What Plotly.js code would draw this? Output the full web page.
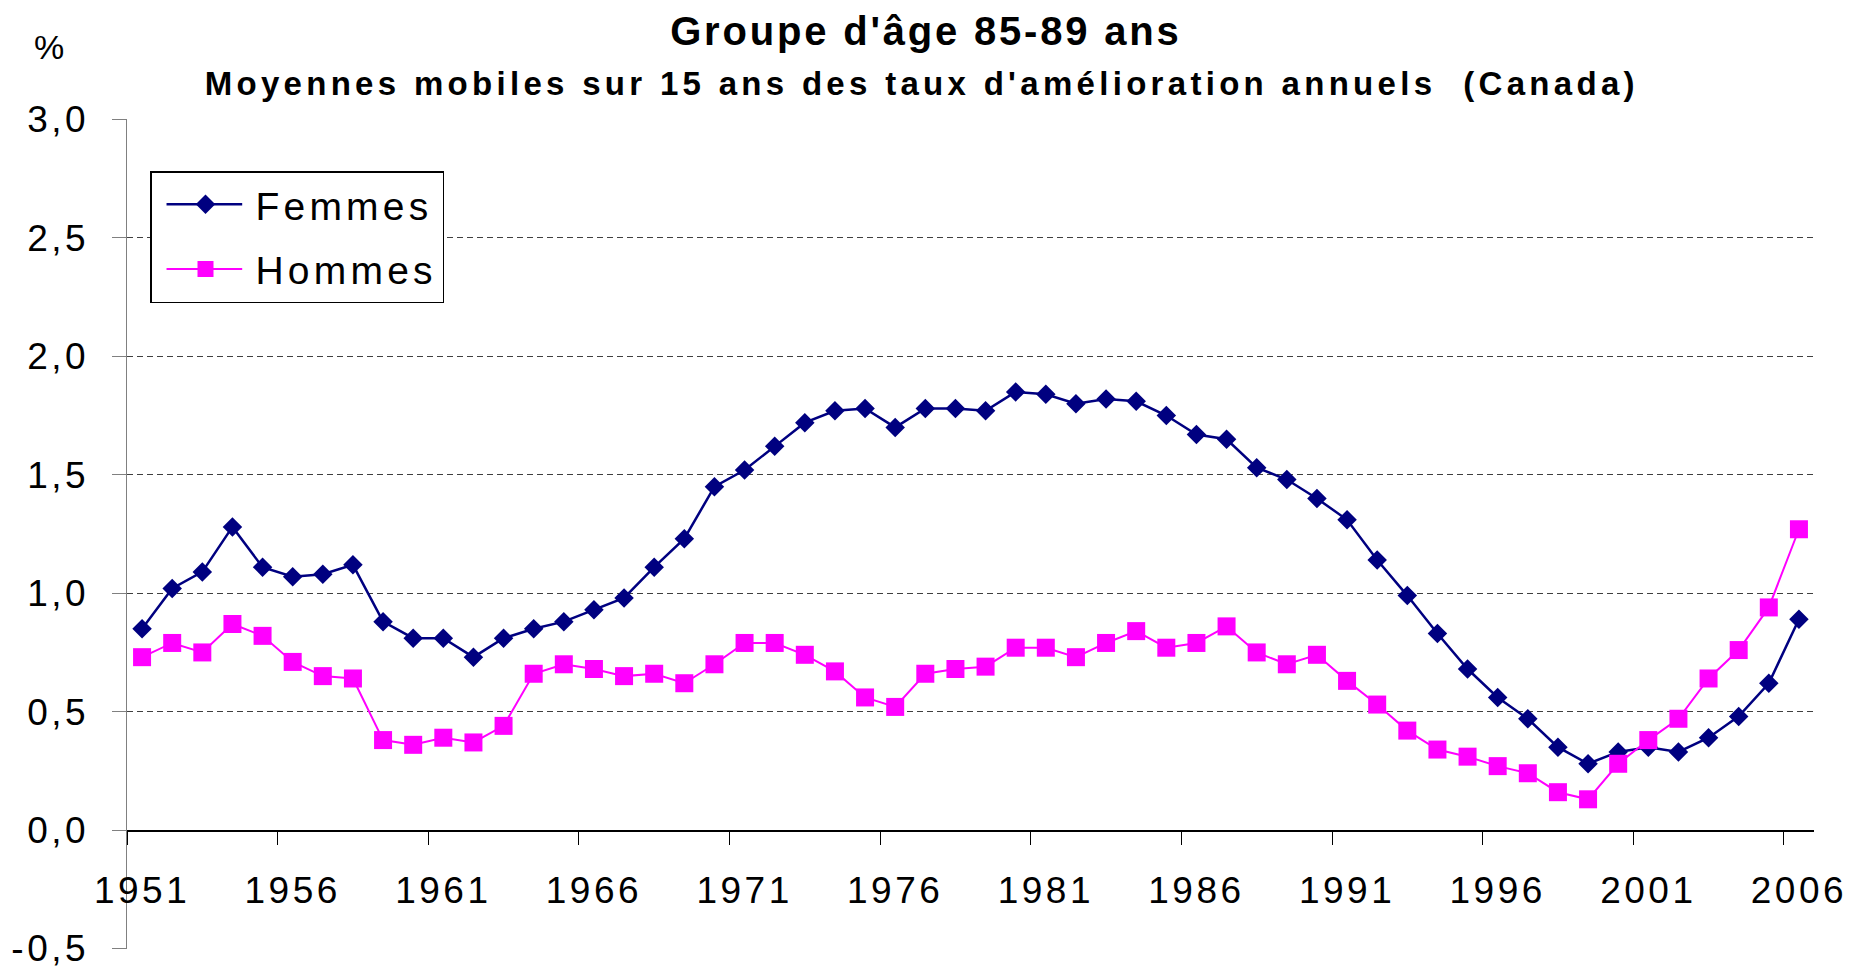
<!DOCTYPE html>
<html>
<head>
<meta charset="utf-8">
<script src="https://cdn.plot.ly/plotly-3.0.1.min.js"></script>
<style>
  html, body { margin: 0; padding: 0; background: #fff; }
  #chart { width: 1849px; height: 967px; }
  .xtick text, .ytick text { letter-spacing: 3.5px; }
  .legendtext { letter-spacing: 4.2px; }
  .legendlines path { transform: translateX(11px) scaleX(0.805); }
  .legendpoints path { transform: translateX(54px); }
  .annotation[data-index="0"] text { letter-spacing: 2.8px; }
  .annotation[data-index="1"] text { letter-spacing: 4.3px; }
</style>
</head>
<body>
<div id="chart"></div>
<script>
const years = [1951,1952,1953,1954,1955,1956,1957,1958,1959,1960,
               1961,1962,1963,1964,1965,1966,1967,1968,1969,1970,
               1971,1972,1973,1974,1975,1976,1977,1978,1979,1980,
               1981,1982,1983,1984,1985,1986,1987,1988,1989,1990,
               1991,1992,1993,1994,1995,1996,1997,1998,1999,2000,
               2001,2002,2003,2004,2005,2006];

const femmes = [0.85,1.02,1.09,1.28,1.11,1.07,1.08,1.12,0.88,0.81,
                0.81,0.73,0.81,0.85,0.88,0.93,0.98,1.11,1.23,1.45,
                1.52,1.62,1.72,1.77,1.78,1.70,1.78,1.78,1.77,1.85,
                1.84,1.80,1.82,1.81,1.75,1.67,1.65,1.53,1.48,1.40,
                1.31,1.14,0.99,0.83,0.68,0.56,0.47,0.35,0.28,0.33,
                0.35,0.33,0.39,0.48,0.62,0.89];

const hommes = [0.73,0.79,0.75,0.87,0.82,0.71,0.65,0.64,0.38,0.36,
                0.39,0.37,0.44,0.66,0.70,0.68,0.65,0.66,0.62,0.70,
                0.79,0.79,0.74,0.67,0.56,0.52,0.66,0.68,0.69,0.77,
                0.77,0.73,0.79,0.84,0.77,0.79,0.86,0.75,0.70,0.74,
                0.63,0.53,0.42,0.34,0.31,0.27,0.24,0.16,0.13,0.28,
                0.38,0.47,0.64,0.76,0.94,1.27];

const xTickLabels = ['1951','1956','1961','1966','1971','1976','1981','1986','1991','1996','2001','2006'];
const yTickValues = [-0.5, 0, 0.5, 1, 1.5, 2, 2.5, 3];
const yTickLabels = ['-0,5','0,0','0,5','1,0','1,5','2,0','2,5','3,0'];

const titleText = "Groupe d'âge 85-89 ans";
const subtitleText = "Moyennes mobiles sur 15 ans des taux d'amélioration annuels  (Canada)";
const unitText = '%';

const FONT = '"Liberation Sans", Arial, sans-serif';

const traces = [
  {
    x: years, y: femmes, name: 'Femmes', type: 'scatter', mode: 'lines+markers',
    legendgroup: 'f',
    line: { color: '#000080', width: 2.5 },
    marker: { symbol: 'diamond', size: 15, color: '#000080' }
  },
  {
    x: years, y: hommes, name: 'Hommes', type: 'scatter', mode: 'lines+markers',
    legendgroup: 'h',
    line: { color: '#FF00FF', width: 2 },
    marker: { symbol: 'square', size: 18, color: '#FF00FF' }
  }
];

// labels at category centres, tick marks between categories
const xLabelVals = xTickLabels.map(v => Number(v));
const xBoundaryVals = xTickLabels.map(v => Number(v) - 0.5);

const W = 1849, H = 967;
const mL = 127, mR = 35, mT = 119, mB = 18;
const plotW = W - mL - mR, plotH = H - mT - mB;
const yMin = -0.5 - 0.002, yMax = 3 + 0.002;

function px2paperX(px) { return (px - mL) / plotW; }
function px2paperY(py) { return (H - mB - py) / plotH; }

const layout = {
  width: W, height: H,
  margin: { l: mL, r: mR, t: mT, b: mB, pad: 0 },
  paper_bgcolor: '#ffffff', plot_bgcolor: '#ffffff',
  font: { family: FONT, color: '#000000', size: 36 },
  showlegend: true,
  legend: {
    x: px2paperX(150), y: px2paperY(171), xanchor: 'left', yanchor: 'top',
    bgcolor: '#ffffff', bordercolor: '#000000', borderwidth: 1.5,
    font: { family: FONT, size: 39, color: '#000000' },
    itemwidth: 94, traceorder: 'grouped', tracegroupgap: 11
  },
  xaxis: {
    type: 'linear',
    range: [years[0] - 0.5, years[years.length - 1] + 0.5],
    anchor: 'free', position: (0 - yMin) / (yMax - yMin),
    tickmode: 'array', tickvals: xLabelVals, ticktext: xTickLabels,
    ticks: 'outside', ticklen: 13, tickwidth: 1, tickcolor: 'rgba(0,0,0,0)',
    ticklabelstandoff: 14,
    minor: {
      tickmode: 'array', tickvals: xBoundaryVals,
      ticks: 'outside', ticklen: 13, tickwidth: 1, tickcolor: '#000000',
      showgrid: false
    },
    showline: true, linecolor: '#000000', linewidth: 1.5,
    showgrid: false, zeroline: false, automargin: false,
    tickfont: { family: FONT, size: 37, color: '#000000' }
  },
  yaxis: {
    range: [yMin, yMax],
    tickmode: 'array', tickvals: yTickValues, ticktext: yTickLabels,
    ticks: 'outside', ticklen: 14, tickwidth: 1, tickcolor: '#808080',
    ticklabelstandoff: 15, ticklabeloverflow: 'allow',
    showline: true, linecolor: '#808080', linewidth: 1.5,
    showgrid: true, gridcolor: '#404040', gridwidth: 1, griddash: '6px,4px',
    zeroline: false, automargin: false,
    tickfont: { family: FONT, size: 37, color: '#000000' }
  },
  annotations: [
    {
      text: '<b>' + titleText + '</b>', xref: 'paper', yref: 'paper',
      x: px2paperX(926), y: px2paperY(31), xanchor: 'center', yanchor: 'middle',
      showarrow: false, font: { family: FONT, size: 40, color: '#000000' }
    },
    {
      text: '<b>' + subtitleText + '</b>', xref: 'paper', yref: 'paper',
      x: px2paperX(922), y: px2paperY(84), xanchor: 'center', yanchor: 'middle',
      showarrow: false, font: { family: FONT, size: 33, color: '#000000' }
    },
    {
      text: unitText, xref: 'paper', yref: 'paper',
      x: px2paperX(49), y: px2paperY(47), xanchor: 'center', yanchor: 'middle',
      showarrow: false, font: { family: FONT, size: 34, color: '#000000' }
    }
  ]
};

Plotly.newPlot('chart', traces, layout, { displayModeBar: false, staticPlot: true });
</script>
</body>
</html>
